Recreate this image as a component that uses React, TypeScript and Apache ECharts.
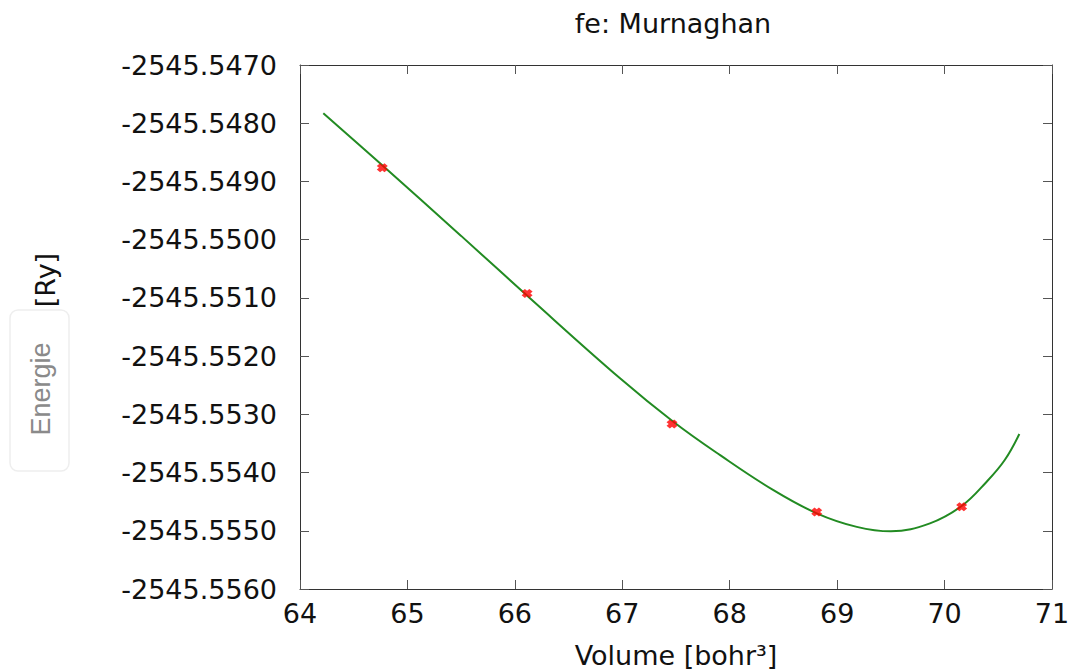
import React, { useEffect, useRef } from "react";
import * as echarts from "echarts";

const title = "fe: Murnaghan";
const xName = "Volume [bohr³]";
const yNameMain = "Energie";
const yNameUnit = "[Ry]";

// Measured energies (red markers)
const pointVolumes = [64.766, 66.114, 67.463, 68.81, 70.159];
const pointEnergies = [-2545.548764, -2545.550923, -2545.553166, -2545.554678, -2545.554587];

// Fitted Murnaghan curve
const fitVolumes = [64.217, 64.745, 65.5, 66.141, 66.979, 67.475, 67.911, 68.407, 68.81, 69.183, 69.5, 69.864, 70.159, 70.392, 70.56, 70.696];
const fitEnergies = [
  -2545.54783, -2545.548688, -2545.549935, -2545.551007, -2545.552381, -2545.553127, -2545.553701,
  -2545.554302, -2545.5547, -2545.554933, -2545.55501, -2545.554872, -2545.554575,
  -2545.554157, -2545.553785, -2545.553338,
];

const xMin = 64;
const xMax = 71;
const xStep = 1;
const yMin = -2545.556;
const yMax = -2545.547;
const yStep = 0.001;

const FONT = "DejaVu Sans";
const CROSS = "path://M0,3L3,0L5,2L7,0L10,3L8,5L10,7L7,10L5,8L3,10L0,7L2,5Z";

export default function App() {
  const ref = useRef<HTMLDivElement>(null);
  useEffect(() => {
    if (!ref.current) return;
    const chart = echarts.init(ref.current, null, { renderer: "svg" });
    const axisLine = { show: true, lineStyle: { color: "#333", width: 1 } };
    const axisTick = { show: true, inside: true, length: 9, lineStyle: { color: "#555", width: 1 } };
    const fitData = fitVolumes.map((v, i) => [v, fitEnergies[i]]);
    const ptData = pointVolumes.map((v, i) => [v, pointEnergies[i]]);
    chart.setOption({
      animation: false,
      backgroundColor: "#fff",
      grid: { left: 300, right: 23, top: 65, bottom: 80, containLabel: false },
      xAxis: [
        {
          type: "value",
          min: xMin,
          max: xMax,
          interval: xStep,
          position: "bottom",
          axisLine,
          axisTick,
          splitLine: { show: false },
          axisLabel: { color: "#111", fontFamily: FONT, fontSize: 27, margin: 11 },
        },
        {
          type: "value",
          min: xMin,
          max: xMax,
          interval: xStep,
          position: "top",
          axisLine,
          axisTick,
          splitLine: { show: false },
          axisLabel: { show: false },
        },
      ],
      yAxis: [
        {
          type: "value",
          min: yMin,
          max: yMax,
          interval: yStep,
          position: "left",
          axisLine,
          axisTick,
          splitLine: { show: false },
          axisLabel: {
            color: "#111",
            fontFamily: FONT,
            fontSize: 27,
            margin: 23,
            formatter: (v: number) => v.toFixed(4),
          },
        },
        {
          type: "value",
          min: yMin,
          max: yMax,
          interval: yStep,
          position: "right",
          axisLine,
          axisTick,
          splitLine: { show: false },
          axisLabel: { show: false },
        },
      ],
      series: [
        {
          type: "line",
          data: fitData,
          xAxisIndex: 0,
          yAxisIndex: 0,
          showSymbol: false,
          smooth: 0.4,
          lineStyle: { color: "#228b22", width: 2 },
          z: 2,
        },
        {
          type: "scatter",
          data: ptData,
          xAxisIndex: 0,
          yAxisIndex: 0,
          symbol: CROSS,
          symbolSize: [11, 9],
          itemStyle: { color: "#ff0000" },
          z: 3,
        },
      ],
      graphic: [
        {
          type: "text",
          x: 673,
          y: 23,
          style: {
            text: title,
            fontFamily: FONT,
            fontSize: 27,
            fill: "#111",
            textAlign: "center",
            textVerticalAlign: "middle",
          },
        },
        {
          type: "text",
          x: 676,
          y: 655,
          style: {
            text: xName,
            fontFamily: FONT,
            fontSize: 27,
            fill: "#111",
            textAlign: "center",
            textVerticalAlign: "middle",
          },
        },
        {
          type: "rect",
          shape: { x: 10, y: 310, width: 59, height: 161, r: 8 },
          style: { fill: "#fff", stroke: "#eeeeee", lineWidth: 1.5 },
        },
        {
          type: "text",
          x: 41,
          y: 389,
          rotation: Math.PI / 2,
          style: {
            text: yNameMain,
            fontFamily: "Liberation Sans",
            fontSize: 27,
            fill: "#8a8a8a",
            textAlign: "center",
            textVerticalAlign: "middle",
          },
        },
        {
          type: "text",
          x: 45,
          y: 280,
          rotation: Math.PI / 2,
          style: {
            text: yNameUnit,
            fontFamily: FONT,
            fontSize: 27,
            fill: "#111",
            textAlign: "center",
            textVerticalAlign: "middle",
          },
        },
      ],
    });
    return () => chart.dispose();
  }, []);
  return (
    <div
      ref={ref}
      style={{ position: "absolute", left: 0, top: 0, width: 1075, height: 669 }}
    />
  );
}
